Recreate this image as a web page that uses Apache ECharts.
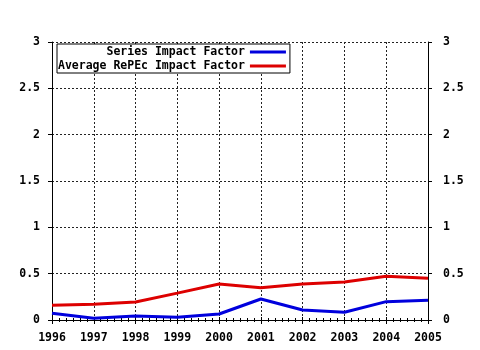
<!DOCTYPE html>
<html>
<head>
<meta charset="utf-8">
<script src="https://cdn.jsdelivr.net/npm/echarts@6/dist/echarts.min.js"></script>
<style>html,body{margin:0;padding:0;background:#fff}#c{width:480px;height:350px}</style>
</head>
<body>
<div id="c"></div>
<script>
var years = [1996, 1997, 1998, 1999, 2000, 2001, 2002, 2003, 2004, 2005];
var seriesIF = [0.072, 0.018, 0.043, 0.029, 0.065, 0.227, 0.108, 0.083, 0.198, 0.212];
var repecIF = [0.158, 0.169, 0.194, 0.290, 0.388, 0.349, 0.388, 0.410, 0.471, 0.450];
var seriesNames = ['Series Impact Factor', 'Average RePEc Impact Factor'];
var yTicks = [0, 0.5, 1, 1.5, 2, 2.5, 3];

var FONT = 'DejaVu Sans Mono';
var lbl = {color: '#000', fontFamily: FONT, fontWeight: 'bold', fontSize: 11.5};
function pair(xs, ys) { return xs.map(function (x, i) { return [x, ys[i]]; }); }
function yFmt(v) { return String(+v.toFixed(1)); }

var chart = echarts.init(document.getElementById('c'), null, {renderer: 'canvas'});
var gridLine = {show: true, lineStyle: {color: '#222', width: 1, type: [2, 2]}};
var axLine = {show: true, lineStyle: {color: '#000', width: 1}};
chart.setOption({
  animation: false,
  backgroundColor: '#fff',
  grid: {left: 52, right: 52, top: 42, bottom: 30},
  legend: {
    orient: 'vertical', left: 57, top: 44, align: 'right',
    padding: [2, 4, 1, 1], itemGap: 2,
    backgroundColor: '#fff', borderColor: '#000', borderWidth: 1,
    itemWidth: 36, itemHeight: 11, icon: 'path://M0,4L36,4L36,7L0,7Z',
    textStyle: {color: '#000', fontFamily: FONT, fontWeight: 'bold', fontSize: 11.5, width: 190, align: 'right'},
    data: seriesNames
  },
  xAxis: [{
    type: 'value', min: years[0], max: years[years.length - 1], interval: 1,
    axisLine: axLine,
    axisTick: {show: true, length: 4, lineStyle: {color: '#000'}},
    minorTick: {show: true, splitNumber: 6, length: 2, lineStyle: {color: '#000'}},
    splitLine: gridLine,
    axisLabel: Object.assign({margin: 12, formatter: function (v) { return String(v); }}, lbl)
  }, {
    type: 'value', position: 'top', min: years[0], max: years[years.length - 1], interval: 1,
    axisLine: axLine,
    axisTick: {show: true, length: 3, lineStyle: {color: '#000'}},
    minorTick: {show: true, splitNumber: 6, length: 2, lineStyle: {color: '#000'}},
    splitLine: {show: false}, axisLabel: {show: false}
  }],
  yAxis: [{
    type: 'value', min: yTicks[0], max: yTicks[yTicks.length - 1], interval: 0.5,
    axisLine: axLine,
    axisTick: {show: true, length: 4, lineStyle: {color: '#000'}},
    splitLine: gridLine,
    axisLabel: Object.assign({margin: 12, formatter: yFmt}, lbl)
  }, {
    type: 'value', position: 'right', min: yTicks[0], max: yTicks[yTicks.length - 1], interval: 0.5,
    axisLine: axLine,
    axisTick: {show: true, length: 4, lineStyle: {color: '#000'}},
    splitLine: {show: false},
    axisLabel: Object.assign({margin: 15, formatter: yFmt}, lbl)
  }],
  series: [{
    name: seriesNames[0], type: 'line', data: pair(years, seriesIF),
    showSymbol: false, symbol: 'none', color: '#0000dd',
    lineStyle: {color: '#0000dd', width: 3}, z: 5
  }, {
    name: seriesNames[1], type: 'line', data: pair(years, repecIF),
    showSymbol: false, symbol: 'none', color: '#dd0000',
    lineStyle: {color: '#dd0000', width: 3}, z: 4
  }]
});
</script>
</body>
</html>
